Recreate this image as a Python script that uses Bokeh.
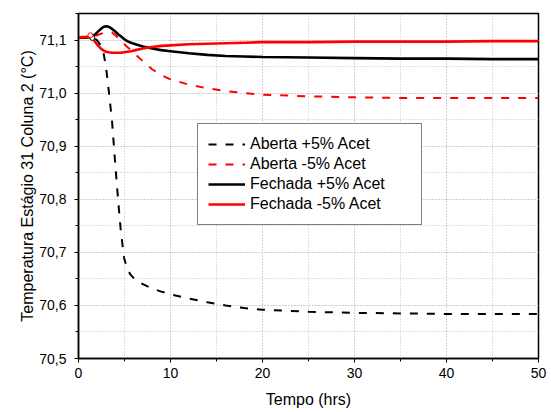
from bokeh.plotting import figure
from bokeh.embed import file_html
from bokeh.resources import INLINE
from bokeh.models import SingleIntervalTicker, CustomJSTickFormatter, Legend

# ---- data ----
tempo = [0, 1, 1.5, 2, 2.5, 2.75, 3, 3.3, 3.65, 4, 4.3, 4.6, 4.95, 5.3, 5.7, 6.2,
         7, 8, 9, 10, 12, 14, 16, 18, 20, 25, 30, 35, 40, 45, 50]

aberta_mais = [71.105, 71.105, 71.105, 71.100, 71.088, 71.073, 71.048, 71.003, 70.946,
               70.865, 70.800, 70.740, 70.690, 70.668, 70.657, 70.648, 70.640, 70.632,
               70.626, 70.621, 70.613, 70.606, 70.600, 70.595, 70.592, 70.588, 70.586,
               70.585, 70.584, 70.584, 70.584]

aberta_menos = [71.105, 71.105, 71.106, 71.109, 71.112, 71.114, 71.115, 71.115, 71.114,
                71.109, 71.104, 71.099, 71.093, 71.087, 71.081, 71.073, 71.060, 71.045,
                71.034, 71.026, 71.016, 71.009, 71.004, 71.000, 70.997, 70.994, 70.992,
                70.991, 70.991, 70.991, 70.991]

fechada_mais = [71.105, 71.105, 71.106, 71.114, 71.122, 71.125, 71.126, 71.125, 71.121,
                71.116, 71.111, 71.107, 71.102, 71.098, 71.095, 71.092, 71.088, 71.084,
                71.081, 71.079, 71.075, 71.072, 71.070, 71.069, 71.068, 71.067, 71.066,
                71.065, 71.065, 71.064, 71.064]

fechada_menos = [71.105, 71.106, 71.104, 71.092, 71.083, 71.080, 71.078, 71.077, 71.076,
                 71.076, 71.076, 71.076, 71.077, 71.078, 71.079, 71.081, 71.084, 71.087,
                 71.089, 71.090, 71.092, 71.093, 71.094, 71.095, 71.096, 71.096, 71.097,
                 71.097, 71.097, 71.098, 71.098]

marcador_t_preto = [1.5]
marcador_y_preto = [71.104]
marcador_t_vermelho = [1.3]
marcador_y_vermelho = [71.109]

labels = ["Aberta +5% Acet", "Aberta -5% Acet", "Fechada +5% Acet", "Fechada -5% Acet"]

FONT = "Liberation Sans"

p = figure(frame_width=460, frame_height=345, x_range=(0, 50), y_range=(70.5, 71.15),
           output_backend="svg", toolbar_location=None,
           min_border_left=78, min_border_right=10, min_border_top=13, min_border_bottom=50)

p.background_fill_color = "white"
p.border_fill_color = "white"
p.outline_line_color = "black"
p.outline_line_width = 1.5

r1 = p.line(tempo, aberta_mais, line_color="black", line_width=2, line_dash="8 9")
r2 = p.line(tempo, aberta_menos, line_color="red", line_width=2, line_dash="8 9")
r3 = p.line(tempo, fechada_mais, line_color="black", line_width=2.6)
r4 = p.line(tempo, fechada_menos, line_color="red", line_width=2.6)

p.scatter(marcador_t_preto, marcador_y_preto, marker="circle", size=5,
          fill_color="white", line_color="black", line_width=1)
p.scatter(marcador_t_vermelho, marcador_y_vermelho, marker="circle", size=5,
          fill_color="white", line_color="red", line_width=1)

# axes
p.xaxis.ticker = SingleIntervalTicker(interval=10, num_minor_ticks=2)
p.yaxis.ticker = SingleIntervalTicker(interval=0.1, num_minor_ticks=2)
p.yaxis.formatter = CustomJSTickFormatter(code="return tick.toFixed(1).replace('.', ',');")

for ax in (p.xaxis[0], p.yaxis[0]):
    ax.axis_line_color = "black"
    ax.axis_line_width = 1.5
    ax.major_tick_line_color = "black"
    ax.minor_tick_line_color = "black"
    ax.major_tick_in = 0
    ax.major_tick_out = 4
    ax.minor_tick_in = 0
    ax.minor_tick_out = 3
    ax.major_label_text_font = FONT
    ax.major_label_text_font_size = "14px"
    ax.major_label_text_color = "black"
    ax.axis_label_text_font = FONT
    ax.axis_label_text_font_size = "16px"
    ax.axis_label_text_font_style = "normal"
    ax.axis_label_text_color = "black"

p.xaxis.axis_label = "Tempo (hrs)"
p.yaxis.axis_label = "Temperatura Estágio 31 Coluna 2 (°C)"
p.xaxis.axis_label_standoff = 10
p.yaxis.axis_label_standoff = 0
p.xaxis.major_label_standoff = 5
p.yaxis.major_label_standoff = 8

for g in (p.xgrid[0], p.ygrid[0]):
    g.grid_line_color = "#c0c0c0"
    g.grid_line_dash = "1 2"
    g.grid_line_width = 1
    g.minor_grid_line_color = "#c0c0c0"
    g.minor_grid_line_dash = "1 2"
    g.minor_grid_line_width = 1

legend = Legend(items=[(labels[0], [r1]), (labels[1], [r2]), (labels[2], [r3]), (labels[3], [r4])],
                location=(119, 133))
legend.label_text_font = FONT
legend.label_text_font_size = "16px"
legend.label_text_color = "black"
legend.glyph_width = 37
legend.glyph_height = 20
legend.label_height = 20
legend.label_width = 161
legend.label_standoff = 5
legend.spacing = 0
legend.padding = 10
legend.margin = 0
legend.border_line_color = "black"
legend.border_line_width = 1
legend.background_fill_alpha = 1
p.add_layout(legend, "center")

open("out.html", "w").write(file_html(p, INLINE))
